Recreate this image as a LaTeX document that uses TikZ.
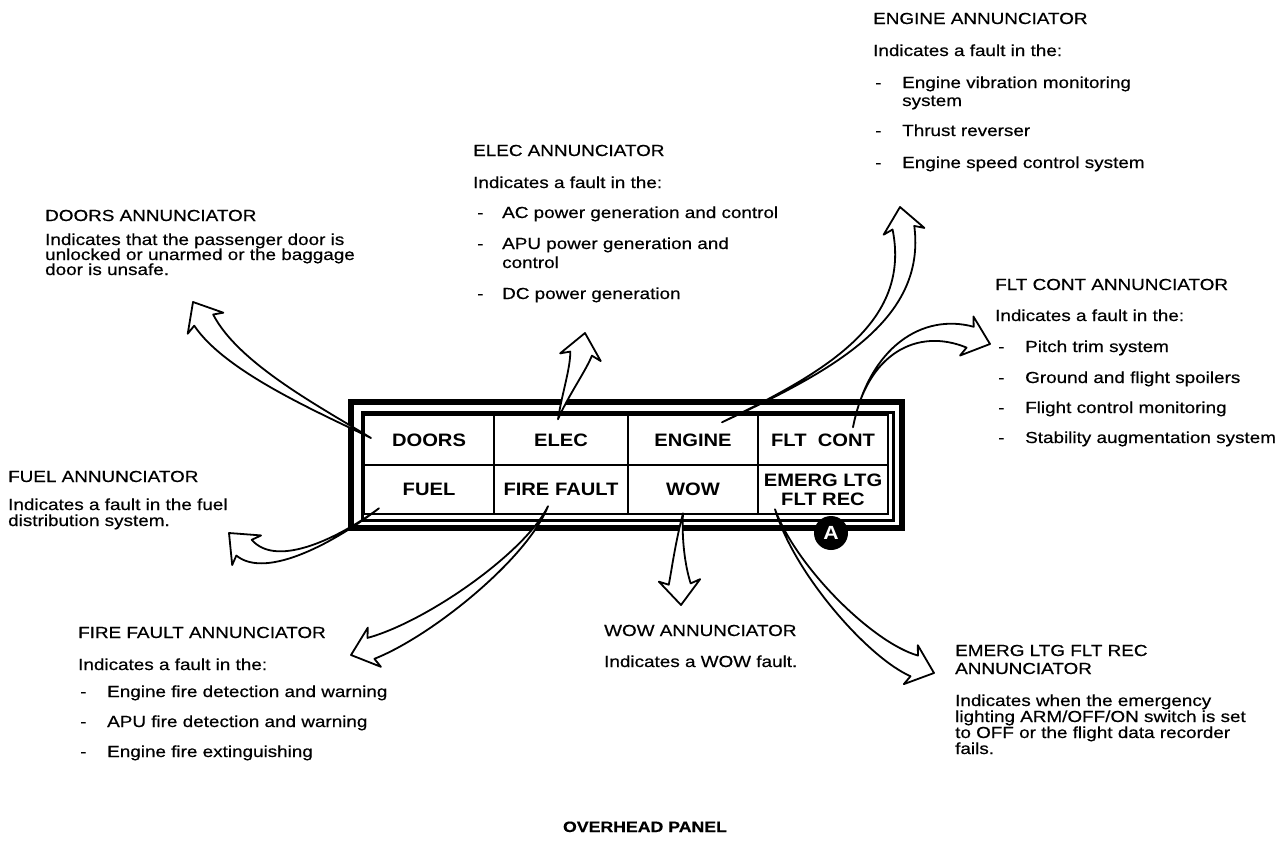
\documentclass[tikz,border=0pt]{standalone}
\usepackage{fontspec}
\setmainfont{Liberation Sans}[FakeStretch=1.18,FakeBold=0.5]
\newfontfamily\panelfont{Liberation Sans}[FakeStretch=1.12]
\usetikzlibrary{calc}

\tikzset{
  txt/.style={anchor=base west,inner sep=0pt,font=\fontsize{16}{16}\selectfont},
  cell/.style={draw,line width=2pt,inner sep=0pt,minimum height=49.5pt,align=center,
    font=\panelfont\bfseries\fontsize{18}{19}\selectfont},
  annarrow/.style={draw=black,fill=white,line width=1.8pt,line join=round}
}

% hollow tapered arrow: tail, control 1, control 2, tip
\newcommand{\annarrow}[4]{%
  \coordinate (hb) at ($(#4)!21pt!(#3)$);
  \coordinate (sa) at ($(hb)!11pt!90:(#4)$);
  \coordinate (sb) at ($(hb)!11pt!-90:(#4)$);
  \filldraw[annarrow] (#1)
    .. controls ($(#2)+0.3*(sa)-0.3*(hb)$) and ($(#3)+0.7*(sa)-0.7*(hb)$) .. (sa)
    -- ($(hb)!21pt!100:(#4)$) -- (#4) -- ($(hb)!21pt!-100:(#4)$) -- (sb)
    .. controls ($(#3)+0.7*(sb)-0.7*(hb)$) and ($(#2)+0.3*(sb)-0.3*(hb)$) .. (#1)
    -- cycle;}

\begin{document}
\begin{tikzpicture}[x=1pt,y=-1pt]
  \useasboundingbox (0,0) rectangle (1288,846);

  % panel frame
  \draw[line width=5.5pt] (351,402) rectangle (902,528);
  \draw[line width=3pt] (362,412) rectangle (893,520);

  % annunciator cells
  \node[cell,minimum width=130pt] (doors) at (429,440) {DOORS};
  \node[cell,minimum width=134pt] (elec) at (561,440) {ELEC};
  \node[cell,minimum width=130pt] (engine) at (693,440) {ENGINE};
  \node[cell,minimum width=130pt] (fltcont) at (823,440) {FLT\ \ CONT};
  \node[cell,minimum width=130pt] (fuel) at (429,489.5) {FUEL};
  \node[cell,minimum width=134pt] (fire) at (561,489.5) {FIRE FAULT};
  \node[cell,minimum width=130pt] (wow) at (693,489.5) {WOW};
  \node[cell,minimum width=130pt] (emerg) at (823,489.5) {EMERG LTG\\FLT REC};

  % arrow tails inside the cells
  \coordinate (doorsT) at ($(doors.west)+(8,-2)$);
  \coordinate (elecT) at ($(elec.north)+(-3,5)$);
  \coordinate (engineT) at ($(engine.north)+(29,8)$);
  \coordinate (fltcontT) at ($(fltcont.north)+(30,13)$);
  \coordinate (fuelT) at ($(fuel.south west)+(16,-7)$);
  \coordinate (fireT) at ($(fire.south)+(-13,-9)$);
  \coordinate (wowT) at ($(wow.south)+(-10,-2)$);
  \coordinate (emergT) at ($(emerg.south west)+(18,-6)$);

  % arrow heads
  \coordinate (doorsH) at (193,302);
  \coordinate (elecH) at (585,333);
  \coordinate (engineH) at (900,207);
  \coordinate (fltcontH) at (990,344);
  \coordinate (fuelH) at (229,533);
  \coordinate (fireH) at (351,655);
  \coordinate (wowH) at (681,605);
  \coordinate (emergH) at (934,673);

  \annarrow{doorsT}{320,410}{232,368}{doorsH}
  \annarrow{elecT}{565,395}{578,370}{elecH}
  \annarrow{engineT}{828,372}{919,322}{engineH}
  \annarrow{fltcontT}{868,350}{920,320}{fltcontH}
  \annarrow{fuelT}{340,538}{272,575}{fuelH}
  \annarrow{fireT}{526,556}{429,629}{fireH}
  \annarrow{wowT}{678,545}{679,572}{wowH}
  \annarrow{emergT}{795,570}{870,650}{emergH}

  \node[circle,fill=black,minimum size=34pt,inner sep=0pt,text=white,
    font=\panelfont\bfseries\fontsize{19}{19}\selectfont] (markA) at (831,533) {A};

  % ENGINE
  \node[txt] (engineHd) at (873,24) {ENGINE ANNUNCIATOR};
  \node[txt] (engineIn) at (873,56) {Indicates a fault in the:};
  \foreach \y/\t [count=\i] in {88/Engine vibration monitoring,136/Thrust reverser,168/Engine speed control system}{
    \node[txt] (engineD\i) at (875,\y) {-};
    \node[txt] (engineI\i) at (902,\y) {\t};}
  \node[txt] (engineI1b) at (902,106) {system};

  % ELEC
  \node[txt] (elecHd) at (473,156) {ELEC ANNUNCIATOR};
  \node[txt] (elecIn) at (473,188) {Indicates a fault in the:};
  \foreach \y/\t [count=\i] in {218/AC power generation and control,249/APU power generation and,299/DC power generation}{
    \node[txt] (elecD\i) at (477,\y) {-};
    \node[txt] (elecI\i) at (502,\y) {\t};}
  \node[txt] (elecI2b) at (502,268) {control};

  % DOORS
  \node[txt] (doorsHd) at (45,221) {DOORS ANNUNCIATOR};
  \foreach \y/\t [count=\i] in {245/Indicates that the passenger door is,260/unlocked or unarmed or the baggage,275/door is unsafe.}
    \node[txt] (doorsL\i) at (45,\y) {\t};

  % FLT CONT
  \node[txt] (fltcontHd) at (995,290) {FLT CONT ANNUNCIATOR};
  \node[txt] (fltcontIn) at (995,321) {Indicates a fault in the:};
  \foreach \y/\t [count=\i] in {352/Pitch trim system,383/Ground and flight spoilers,413/Flight control monitoring,443/Stability augmentation system}{
    \node[txt] (fltcontD\i) at (998,\y) {-};
    \node[txt] (fltcontI\i) at (1025,\y) {\t};}

  % FUEL
  \node[txt] (fuelHd) at (8,482) {FUEL ANNUNCIATOR};
  \node[txt] (fuelL1) at (8,510) {Indicates a fault in the fuel};
  \node[txt] (fuelL2) at (8,526) {distribution system.};

  % FIRE FAULT
  \node[txt] (fireHd) at (78,638) {FIRE FAULT ANNUNCIATOR};
  \node[txt] (fireIn) at (78,670) {Indicates a fault in the:};
  \foreach \y/\t [count=\i] in {697/Engine fire detection and warning,727/APU fire detection and warning,757/Engine fire extinguishing}{
    \node[txt] (fireD\i) at (80,\y) {-};
    \node[txt] (fireI\i) at (107,\y) {\t};}

  % WOW
  \node[txt] (wowHd) at (604,636) {WOW ANNUNCIATOR};
  \node[txt] (wowL1) at (604,667) {Indicates a WOW fault.};

  % EMERG LTG FLT REC
  \node[txt] (emergHd) at (955,656) {EMERG LTG FLT REC};
  \node[txt] (emergHd2) at (955,674) {ANNUNCIATOR};
  \foreach \y/\t [count=\i] in {706/Indicates when the emergency,722/{lighting ARM/OFF/ON switch is set},738/to OFF or the flight data recorder,754/fails.}
    \node[txt] (emergL\i) at (955,\y) {\t};

  \node[anchor=base,inner sep=0pt,font=\bfseries\fontsize{15}{15}\selectfont] (title) at (645,832) {OVERHEAD PANEL};
\end{tikzpicture}
\end{document}
